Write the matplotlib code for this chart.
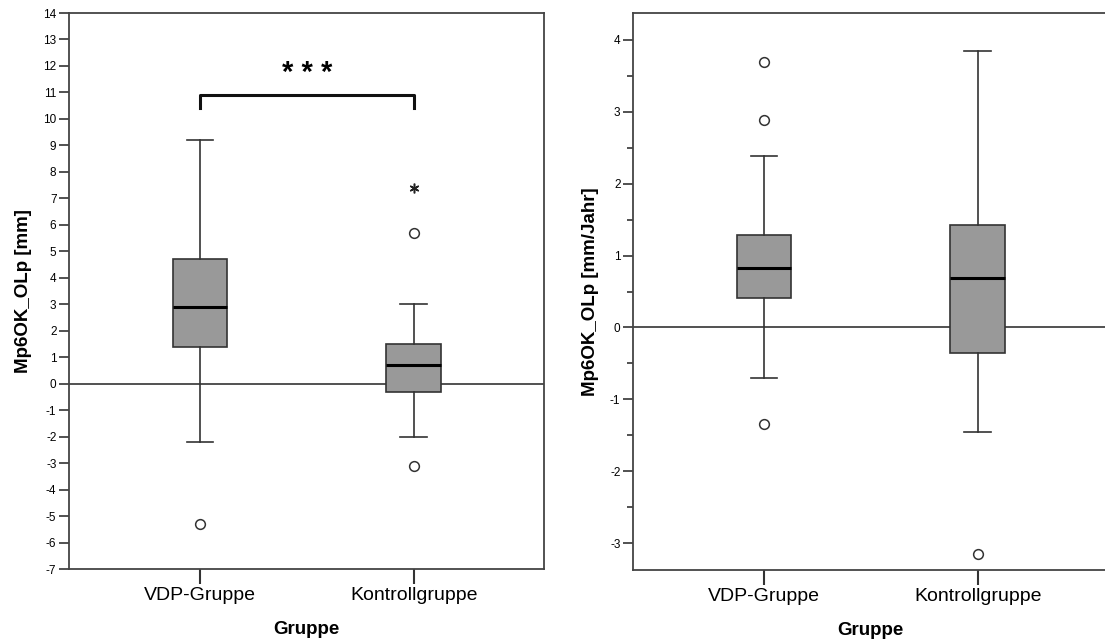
import matplotlib.pyplot as plt
from matplotlib.ticker import MultipleLocator

plt.rcParams['font.family'] = ['Liberation Sans', 'DejaVu Sans']
plt.rcParams['axes.unicode_minus'] = False

# group labels
groups = ['VDP-Gruppe', 'Kontrollgruppe']

# left panel: Mp6OK_OLp [mm]
left_q1 = [1.4, -0.3]
left_med = [2.9, 0.7]
left_q3 = [4.7, 1.5]
left_wlo = [-2.2, -2.0]
left_whi = [9.2, 3.0]
left_out = [[-5.3], [5.7, -3.1]]
left_extreme = [[], [7.4]]

# right panel: Mp6OK_OLp [mm/Jahr]
right_q1 = [0.41, -0.36]
right_med = [0.83, 0.69]
right_q3 = [1.29, 1.43]
right_wlo = [-0.70, -1.45]
right_whi = [2.38, 3.85]
right_out = [[3.70, 2.88, -1.35], [-3.15]]
right_extreme = [[], []]

# significance bracket
sig_level = 10.9
sig_drop = 0.5
sig_text = '* * *'

edge = '#333333'
fill = '#999999'
pos = [1, 2]


def draw_panel(ax, q1, med, q3, wlo, whi, out, extreme, ylim, ylabel):
    stats = []
    for i in range(len(groups)):
        stats.append(dict(med=med[i], q1=q1[i], q3=q3[i],
                          whislo=wlo[i], whishi=whi[i], fliers=out[i]))
    ax.axhline(0, color=edge, lw=1.2, zorder=1)
    ax.bxp(stats, positions=pos, widths=0.255, patch_artist=True,
           boxprops=dict(facecolor=fill, edgecolor=edge, lw=1.2),
           medianprops=dict(color='black', lw=2.2),
           whiskerprops=dict(color=edge, lw=1.2),
           capprops=dict(color=edge, lw=1.2),
           capwidths=0.125,
           flierprops=dict(marker='o', markerfacecolor='white',
                           markeredgecolor=edge, markersize=7, mew=1.1),
           zorder=3)
    for p, vals in zip(pos, extreme):
        if vals:
            ax.plot([p] * len(vals), vals, ls='none', marker=(6, 2, 0),
                    color='#222222', markersize=7, mew=1.1, zorder=4)
    ax.set_xlim(0.387, 2.61)
    ax.set_ylim(*ylim)
    ax.set_xticks(pos)
    ax.set_xticklabels(groups, fontsize=14)
    ax.tick_params(axis='x', length=11, width=1.5, color=edge, pad=2)
    ax.tick_params(axis='y', length=7, width=1.2, color=edge, labelsize=8.5, pad=2)
    ax.tick_params(axis='y', which='minor', length=4, width=1.2, color=edge)
    for s in ax.spines.values():
        s.set_color('#444444')
        s.set_linewidth(1.3)
    ax.set_ylabel(ylabel, fontsize=13.5, fontweight='bold', labelpad=8)
    ax.set_xlabel('Gruppe', fontsize=13.5, fontweight='bold', labelpad=12)


fig = plt.figure(figsize=(11.05, 6.39), dpi=100)

ax1 = fig.add_axes([69 / 1105, 70 / 639, 475 / 1105, 556 / 639])
draw_panel(ax1, left_q1, left_med, left_q3, left_wlo, left_whi, left_out,
           left_extreme, (-7, 14), 'Mp6OK_OLp [mm]')
ax1.yaxis.set_major_locator(MultipleLocator(1))
ax1.plot([pos[0], pos[0], pos[1], pos[1]],
         [sig_level - sig_drop, sig_level, sig_level, sig_level - sig_drop],
         color='#111111', lw=2.2, zorder=4)
ax1.text((pos[0] + pos[1]) / 2, sig_level + 0.3, sig_text, ha='center',
         va='bottom', fontsize=21, fontweight='bold')

ax2 = fig.add_axes([633 / 1105, 69 / 639, 475 / 1105, 557 / 639])
draw_panel(ax2, right_q1, right_med, right_q3, right_wlo, right_whi, right_out,
           right_extreme, (-3.375, 4.375), 'Mp6OK_OLp [mm/Jahr]')
ax2.yaxis.set_major_locator(MultipleLocator(1))
ax2.yaxis.set_minor_locator(MultipleLocator(0.5))
ax2.spines['right'].set_visible(False)

fig.savefig('out.png', dpi=100)
